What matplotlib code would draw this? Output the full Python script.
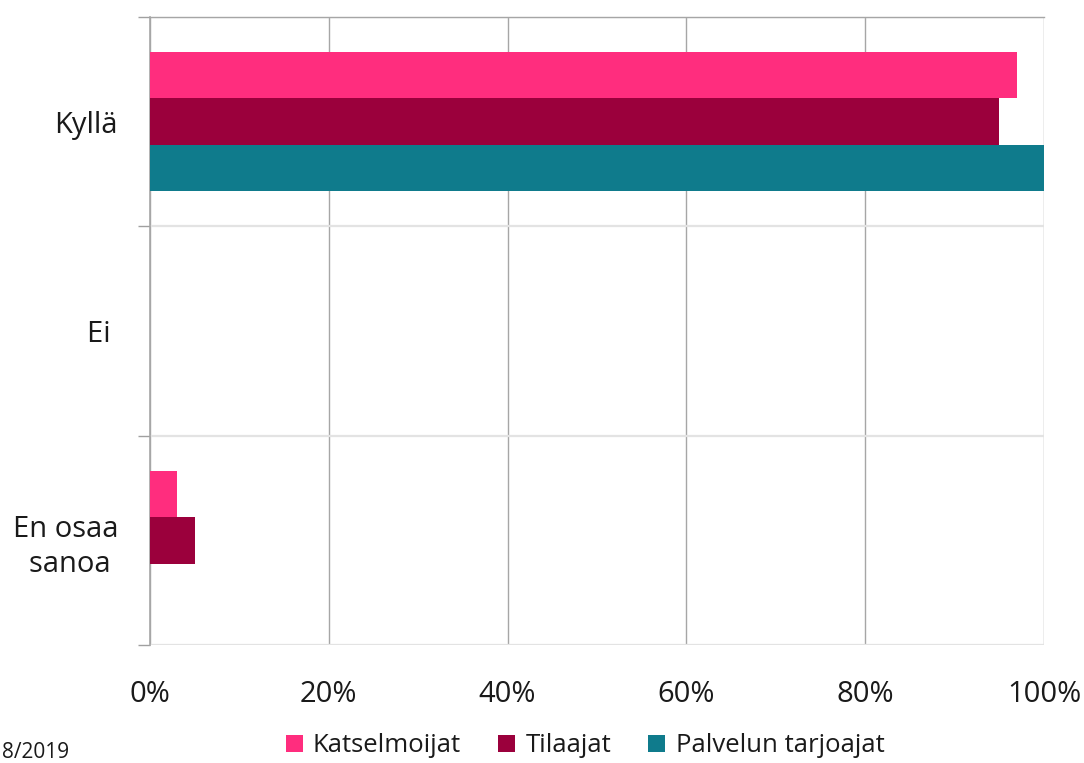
import matplotlib
matplotlib.use("Agg")
import matplotlib.pyplot as plt
import numpy as np

categories = ["Kyllä", "Ei ", "En osaa\nsanoa "]
series_names = ["Katselmoijat", "Tilaajat", "Palvelun tarjoajat"]
katselmoijat = [97, 0, 3]
tilaajat = [95, 0, 5]
palvelun_tarjoajat = [100, 0, 0]
x_ticks = [0, 20, 40, 60, 80, 100]
x_tick_labels = ["0%", "20%", "40%", "60%", "80%", "100%"]
footnote = "8/2019"

colors = ["#FF2D7E", "#9B003C", "#0F7B8C"]

plt.rcParams['font.family'] = ['Open Sans', 'DejaVu Sans']

fig = plt.figure(figsize=(10.84, 7.63), dpi=100)
ax = fig.add_axes([150/1084, 1-645/763, 894/1084, 628/763])

y = np.arange(len(categories))
h = 0.222
for i, (vals, name, c) in enumerate(zip([katselmoijat, tilaajat, palvelun_tarjoajat], series_names, colors)):
    ax.barh(y + (i - 1) * h, vals, height=h, color=c, label=name, zorder=3)

ax.set_xlim(0, 100)
ax.set_ylim(2.5, -0.5)
ax.set_xticks(x_ticks)
ax.set_xticklabels(x_tick_labels, fontsize=21)
ax.set_yticks(y)
ax.set_yticklabels(categories, fontsize=21, color="#1a1a1a", linespacing=1.3)
ax.set_yticks([-0.5, 0.5, 1.5, 2.5], minor=True)
ax.tick_params(axis='y', which='major', length=0, pad=23)
ax.tick_params(axis='y', which='minor', length=9, color="#a0a0a0", width=1)
ax.tick_params(axis='x', which='major', length=0, pad=25, labelcolor="#1a1a1a")

ax.grid(axis='x', which='major', color="#a6a6a6", lw=1.0, zorder=1)
ax.grid(axis='y', which='minor', color="#e3e3e3", lw=1.6, zorder=1)

for s in ['right', 'bottom']:
    ax.spines[s].set_visible(False)
ax.spines['top'].set_color("#a6a6a6")
ax.spines['top'].set_linewidth(1.0)
ax.spines['left'].set_color("#a6a6a6")
ax.spines['left'].set_linewidth(1.2)

leg = fig.legend(loc='center', bbox_to_anchor=(585/1084, 1-746/763), ncol=3, frameon=False,
                 fontsize=18.5, handlelength=0.66, handleheight=0.66, handletextpad=0.4,
                 columnspacing=1.45, labelcolor="#1a1a1a")

fig.text(2/1084, 1-752/763, footnote, fontsize=15, va='center', ha='left', color="#1a1a1a")

fig.savefig("out.png", dpi=100)
